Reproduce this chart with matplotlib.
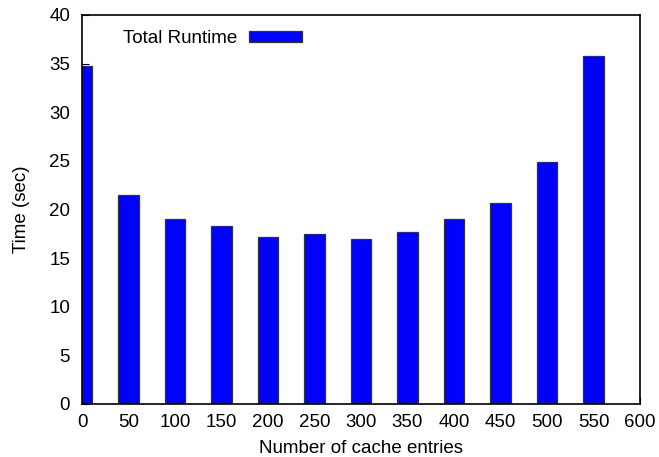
import matplotlib
matplotlib.use('Agg')
import matplotlib.pyplot as plt

plt.rcParams['font.family'] = ['Liberation Sans', 'DejaVu Sans']

entries = [0, 50, 100, 150, 200, 250, 300, 350, 400, 450, 500, 550]
runtime = [34.8, 21.5, 19.0, 18.35, 17.2, 17.5, 17.0, 17.7, 19.0, 20.7, 24.9, 35.8]

fig = plt.figure(figsize=(6.59, 4.57), dpi=100)
ax = fig.add_axes([82/659, 1 - 404/457, 558/659, 389/457])

ax.bar(entries, runtime, width=22.5, color='#0000ff', edgecolor='#333333',
       linewidth=0.9, label='Total Runtime', zorder=3)

ax.set_xlim(0, 600)
ax.set_ylim(0, 40)
ax.set_xticks(range(0, 601, 50))
ax.set_yticks(range(0, 41, 5))
ax.tick_params(direction='in', length=5, labelsize=13.5, top=False, right=False)
ax.tick_params(axis='x', pad=7)
ax.tick_params(axis='y', pad=8.5)
for s in ax.spines.values():
    s.set_linewidth(1.2)
    s.set_zorder(4)

ax.set_xlabel('Number of cache entries', fontsize=13.5, labelpad=7)
ax.set_ylabel('Time (sec)', fontsize=13.5, labelpad=14)

ax.legend(loc='upper left', bbox_to_anchor=(0.043, 1.005), frameon=False, markerfirst=False,
          fontsize=13.5, handlelength=2.8, handleheight=0.5, handletextpad=0.64)

fig.savefig('out.png', dpi=100)
